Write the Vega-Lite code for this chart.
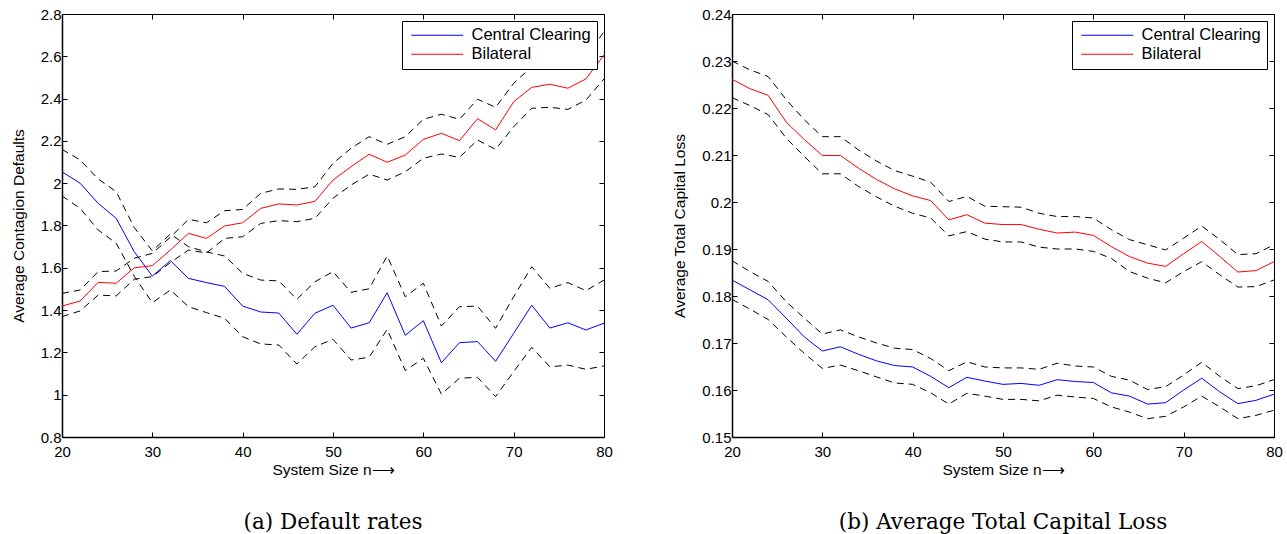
{
  "$schema": "https://vega.github.io/schema/vega-lite/v6.json",
  "padding": {"left": 10, "top": 6, "right": 5, "bottom": 0},
  "background": "white",
  "spacing": 59,
  "config": {
    "font": "Liberation Sans",
    "view": {"stroke": "black", "strokeWidth": 1},
    "axis": {
      "labelFont": "Liberation Sans", "labelFontSize": 15, "labelColor": "black", "labelFlush": false, "labelOverlap": false,
      "titleFont": "Liberation Sans", "titleFontSize": 15.5, "titleFontWeight": "normal", "titleColor": "black",
      "domainColor": "black", "domainWidth": 1.5, "tickColor": "black", "tickSize": -5, "labelPadding": 6,
      "grid": false, "titlePadding": 14
    },
    "legend": {
      "labelFont": "Liberation Sans", "labelFontSize": 16.5, "labelColor": "black"
    },
    "title": {"font": "DejaVu Serif", "fontSize": 21.5, "fontWeight": "normal", "color": "black"}
  },
  "datasets": {
    "defaults": [
      {"n":20,"s":"Central Clearing","m":2.054,"hi":2.16,"lo":1.94},
      {"n":22,"s":"Central Clearing","m":2.00,"hi":2.11,"lo":1.881},
      {"n":24,"s":"Central Clearing","m":1.905,"hi":2.02,"lo":1.779},
      {"n":26,"s":"Central Clearing","m":1.834,"hi":1.96,"lo":1.716},
      {"n":28,"s":"Central Clearing","m":1.676,"hi":1.79,"lo":1.56},
      {"n":30,"s":"Central Clearing","m":1.561,"hi":1.68,"lo":1.435},
      {"n":32,"s":"Central Clearing","m":1.634,"hi":1.76,"lo":1.495},
      {"n":34,"s":"Central Clearing","m":1.55,"hi":1.70,"lo":1.416},
      {"n":36,"s":"Central Clearing","m":1.53,"hi":1.675,"lo":1.388},
      {"n":38,"s":"Central Clearing","m":1.512,"hi":1.656,"lo":1.361},
      {"n":40,"s":"Central Clearing","m":1.419,"hi":1.574,"lo":1.274},
      {"n":42,"s":"Central Clearing","m":1.391,"hi":1.542,"lo":1.24},
      {"n":44,"s":"Central Clearing","m":1.386,"hi":1.538,"lo":1.235},
      {"n":46,"s":"Central Clearing","m":1.286,"hi":1.451,"lo":1.145},
      {"n":48,"s":"Central Clearing","m":1.385,"hi":1.534,"lo":1.227},
      {"n":50,"s":"Central Clearing","m":1.423,"hi":1.582,"lo":1.262},
      {"n":52,"s":"Central Clearing","m":1.315,"hi":1.484,"lo":1.164},
      {"n":54,"s":"Central Clearing","m":1.34,"hi":1.501,"lo":1.177},
      {"n":56,"s":"Central Clearing","m":1.482,"hi":1.656,"lo":1.309},
      {"n":58,"s":"Central Clearing","m":1.281,"hi":1.463,"lo":1.114},
      {"n":60,"s":"Central Clearing","m":1.35,"hi":1.527,"lo":1.172},
      {"n":62,"s":"Central Clearing","m":1.151,"hi":1.325,"lo":1.003},
      {"n":64,"s":"Central Clearing","m":1.246,"hi":1.416,"lo":1.078},
      {"n":66,"s":"Central Clearing","m":1.251,"hi":1.419,"lo":1.082},
      {"n":68,"s":"Central Clearing","m":1.158,"hi":1.314,"lo":0.991},
      {"n":70,"s":"Central Clearing","m":1.29,"hi":1.463,"lo":1.109},
      {"n":72,"s":"Central Clearing","m":1.423,"hi":1.605,"lo":1.224},
      {"n":74,"s":"Central Clearing","m":1.315,"hi":1.503,"lo":1.132},
      {"n":76,"s":"Central Clearing","m":1.34,"hi":1.53,"lo":1.14},
      {"n":78,"s":"Central Clearing","m":1.306,"hi":1.492,"lo":1.12},
      {"n":80,"s":"Central Clearing","m":1.338,"hi":1.542,"lo":1.136},
      {"n":20,"s":"Bilateral","m":1.419,"hi":1.479,"lo":1.369},
      {"n":22,"s":"Bilateral","m":1.443,"hi":1.495,"lo":1.396},
      {"n":24,"s":"Bilateral","m":1.531,"hi":1.582,"lo":1.471},
      {"n":26,"s":"Bilateral","m":1.527,"hi":1.585,"lo":1.467},
      {"n":28,"s":"Bilateral","m":1.6,"hi":1.645,"lo":1.546},
      {"n":30,"s":"Bilateral","m":1.61,"hi":1.668,"lo":1.558},
      {"n":32,"s":"Bilateral","m":1.684,"hi":1.745,"lo":1.625},
      {"n":34,"s":"Bilateral","m":1.763,"hi":1.829,"lo":1.684},
      {"n":36,"s":"Bilateral","m":1.739,"hi":1.813,"lo":1.67},
      {"n":38,"s":"Bilateral","m":1.798,"hi":1.87,"lo":1.739},
      {"n":40,"s":"Bilateral","m":1.813,"hi":1.876,"lo":1.747},
      {"n":42,"s":"Bilateral","m":1.881,"hi":1.952,"lo":1.81},
      {"n":44,"s":"Bilateral","m":1.902,"hi":1.973,"lo":1.823},
      {"n":46,"s":"Bilateral","m":1.897,"hi":1.971,"lo":1.818},
      {"n":48,"s":"Bilateral","m":1.914,"hi":1.983,"lo":1.834},
      {"n":50,"s":"Bilateral","m":2.015,"hi":2.094,"lo":1.929},
      {"n":52,"s":"Bilateral","m":2.078,"hi":2.165,"lo":1.991},
      {"n":54,"s":"Bilateral","m":2.137,"hi":2.22,"lo":2.043},
      {"n":56,"s":"Bilateral","m":2.099,"hi":2.184,"lo":2.015},
      {"n":58,"s":"Bilateral","m":2.133,"hi":2.22,"lo":2.054},
      {"n":60,"s":"Bilateral","m":2.207,"hi":2.302,"lo":2.118},
      {"n":62,"s":"Bilateral","m":2.236,"hi":2.326,"lo":2.138},
      {"n":64,"s":"Bilateral","m":2.201,"hi":2.302,"lo":2.122},
      {"n":66,"s":"Bilateral","m":2.305,"hi":2.397,"lo":2.204},
      {"n":68,"s":"Bilateral","m":2.252,"hi":2.359,"lo":2.16},
      {"n":70,"s":"Bilateral","m":2.385,"hi":2.472,"lo":2.267},
      {"n":72,"s":"Bilateral","m":2.453,"hi":2.551,"lo":2.354},
      {"n":74,"s":"Bilateral","m":2.468,"hi":2.57,"lo":2.359},
      {"n":76,"s":"Bilateral","m":2.449,"hi":2.55,"lo":2.349},
      {"n":78,"s":"Bilateral","m":2.493,"hi":2.6,"lo":2.393},
      {"n":80,"s":"Bilateral","m":2.606,"hi":2.716,"lo":2.493}
    ],
    "loss": [
      {"n":20,"s":"Central Clearing","m":0.1834,"hi":0.1875,"lo":0.1793},
      {"n":22,"s":"Central Clearing","m":0.1813,"hi":0.1852,"lo":0.1772},
      {"n":24,"s":"Central Clearing","m":0.1792,"hi":0.1831,"lo":0.175},
      {"n":26,"s":"Central Clearing","m":0.1753,"hi":0.1788,"lo":0.1713},
      {"n":28,"s":"Central Clearing","m":0.1713,"hi":0.1753,"lo":0.1678},
      {"n":30,"s":"Central Clearing","m":0.1683,"hi":0.1719,"lo":0.1646},
      {"n":32,"s":"Central Clearing","m":0.1692,"hi":0.1728,"lo":0.1653},
      {"n":34,"s":"Central Clearing","m":0.1676,"hi":0.1713,"lo":0.1641},
      {"n":36,"s":"Central Clearing","m":0.1662,"hi":0.17,"lo":0.1628},
      {"n":38,"s":"Central Clearing","m":0.1652,"hi":0.1689,"lo":0.1615},
      {"n":40,"s":"Central Clearing","m":0.1649,"hi":0.1686,"lo":0.1612},
      {"n":42,"s":"Central Clearing","m":0.1629,"hi":0.1667,"lo":0.1594},
      {"n":44,"s":"Central Clearing","m":0.1605,"hi":0.1641,"lo":0.157},
      {"n":46,"s":"Central Clearing","m":0.1627,"hi":0.166,"lo":0.1593},
      {"n":48,"s":"Central Clearing","m":0.1619,"hi":0.1649,"lo":0.1587},
      {"n":50,"s":"Central Clearing","m":0.1612,"hi":0.1647,"lo":0.158},
      {"n":52,"s":"Central Clearing","m":0.1614,"hi":0.1647,"lo":0.158},
      {"n":54,"s":"Central Clearing","m":0.161,"hi":0.1644,"lo":0.1577},
      {"n":56,"s":"Central Clearing","m":0.1622,"hi":0.1657,"lo":0.1589},
      {"n":58,"s":"Central Clearing","m":0.1618,"hi":0.1651,"lo":0.1585},
      {"n":60,"s":"Central Clearing","m":0.1616,"hi":0.1649,"lo":0.1582},
      {"n":62,"s":"Central Clearing","m":0.1594,"hi":0.1629,"lo":0.1564},
      {"n":64,"s":"Central Clearing","m":0.1587,"hi":0.1621,"lo":0.1553},
      {"n":66,"s":"Central Clearing","m":0.157,"hi":0.1601,"lo":0.1539},
      {"n":68,"s":"Central Clearing","m":0.1573,"hi":0.1607,"lo":0.1544},
      {"n":70,"s":"Central Clearing","m":0.16,"hi":0.1632,"lo":0.1564},
      {"n":72,"s":"Central Clearing","m":0.1625,"hi":0.1659,"lo":0.1587},
      {"n":74,"s":"Central Clearing","m":0.1596,"hi":0.1629,"lo":0.1564},
      {"n":76,"s":"Central Clearing","m":0.1571,"hi":0.1603,"lo":0.1539},
      {"n":78,"s":"Central Clearing","m":0.1578,"hi":0.1609,"lo":0.1546},
      {"n":80,"s":"Central Clearing","m":0.1591,"hi":0.1622,"lo":0.1557},
      {"n":20,"s":"Bilateral","m":0.2261,"hi":0.23,"lo":0.2222},
      {"n":22,"s":"Bilateral","m":0.2241,"hi":0.2281,"lo":0.2205},
      {"n":24,"s":"Bilateral","m":0.2227,"hi":0.2267,"lo":0.2186},
      {"n":26,"s":"Bilateral","m":0.217,"hi":0.2218,"lo":0.2136},
      {"n":28,"s":"Bilateral","m":0.2133,"hi":0.2175,"lo":0.2097},
      {"n":30,"s":"Bilateral","m":0.2099,"hi":0.2139,"lo":0.206},
      {"n":32,"s":"Bilateral","m":0.2099,"hi":0.2139,"lo":0.206},
      {"n":34,"s":"Bilateral","m":0.2072,"hi":0.2111,"lo":0.2033},
      {"n":36,"s":"Bilateral","m":0.2048,"hi":0.2087,"lo":0.2011},
      {"n":38,"s":"Bilateral","m":0.2028,"hi":0.2067,"lo":0.1991},
      {"n":40,"s":"Bilateral","m":0.2013,"hi":0.2055,"lo":0.1976},
      {"n":42,"s":"Bilateral","m":0.2003,"hi":0.2042,"lo":0.1966},
      {"n":44,"s":"Bilateral","m":0.1962,"hi":0.2001,"lo":0.1928},
      {"n":46,"s":"Bilateral","m":0.1973,"hi":0.2012,"lo":0.1937},
      {"n":48,"s":"Bilateral","m":0.1955,"hi":0.1991,"lo":0.1921},
      {"n":50,"s":"Bilateral","m":0.1952,"hi":0.199,"lo":0.1915},
      {"n":52,"s":"Bilateral","m":0.1952,"hi":0.1989,"lo":0.1915},
      {"n":54,"s":"Bilateral","m":0.1942,"hi":0.1976,"lo":0.1904},
      {"n":56,"s":"Bilateral","m":0.1934,"hi":0.1969,"lo":0.19},
      {"n":58,"s":"Bilateral","m":0.1936,"hi":0.1969,"lo":0.19},
      {"n":60,"s":"Bilateral","m":0.1929,"hi":0.1966,"lo":0.1895},
      {"n":62,"s":"Bilateral","m":0.1905,"hi":0.1941,"lo":0.188},
      {"n":64,"s":"Bilateral","m":0.1884,"hi":0.192,"lo":0.1852},
      {"n":66,"s":"Bilateral","m":0.187,"hi":0.1909,"lo":0.1838},
      {"n":68,"s":"Bilateral","m":0.1863,"hi":0.1898,"lo":0.1828},
      {"n":70,"s":"Bilateral","m":0.189,"hi":0.1923,"lo":0.1852},
      {"n":72,"s":"Bilateral","m":0.1916,"hi":0.1949,"lo":0.1873},
      {"n":74,"s":"Bilateral","m":0.1884,"hi":0.192,"lo":0.1845},
      {"n":76,"s":"Bilateral","m":0.1851,"hi":0.1888,"lo":0.1819},
      {"n":78,"s":"Bilateral","m":0.1854,"hi":0.189,"lo":0.182},
      {"n":80,"s":"Bilateral","m":0.1873,"hi":0.1909,"lo":0.1834}
    ]
  },
  "hconcat": [
    {
      "width": 542, "height": 423,
      "data": {"name": "defaults"},
      "title": {"text": "(a) Default rates", "orient": "bottom", "frame": "group", "anchor": "middle", "offset": 34},
      "resolve": {"axis": {"x": "independent", "y": "independent"}},
      "layer": [
        {
          "mark": {"type": "line", "strokeWidth": 1},
          "encoding": {
            "x": {"field": "n", "type": "quantitative", "scale": {"domain": [20, 80], "nice": false}, "axis": {"orient": "bottom", "title": "System Size n\u27f6", "values": [20,30,40,50,60,70,80], "labelPadding": 12, "titlePadding": 3}},
            "y": {"field": "m", "type": "quantitative", "scale": {"domain": [0.8, 2.8], "nice": false, "zero": false}, "axis": {"orient": "left", "title": "Average Contagion Defaults", "values": [0.8,1,1.2,1.4,1.6,1.8,2,2.2,2.4,2.6,2.8], "format": ".1~f"}},
            "color": {"field": "s", "type": "nominal", "scale": {"domain": ["Central Clearing", "Bilateral"], "range": ["#0000ff", "#ff0000"]},
              "legend": {"title": null, "orient": "top-right", "offset": 7, "strokeColor": "black", "fillColor": "white", "padding": 6, "symbolType": "M-5.2,0H5.2", "symbolSize": 100, "symbolOffset": 21, "symbolStrokeWidth": 1, "labelOffset": 26, "rowPadding": 2}}
          }
        },
        {
          "mark": {"type": "line", "strokeWidth": 1, "strokeDash": [7, 5], "color": "black"},
          "encoding": {
            "x": {"field": "n", "type": "quantitative", "axis": {"orient": "top", "labels": false, "title": null, "values": [20,30,40,50,60,70,80], "domain": false}},
            "y": {"field": "hi", "type": "quantitative", "axis": {"orient": "right", "labels": false, "title": null, "values": [0.8,1,1.2,1.4,1.6,1.8,2,2.2,2.4,2.6,2.8], "domain": false}},
            "detail": {"field": "s"}
          }
        },
        {
          "mark": {"type": "line", "strokeWidth": 1, "strokeDash": [7, 5], "color": "black"},
          "encoding": {
            "x": {"field": "n", "type": "quantitative", "axis": null},
            "y": {"field": "lo", "type": "quantitative", "axis": null},
            "detail": {"field": "s"}
          }
        }
      ]
    },
    {
      "width": 542, "height": 423,
      "data": {"name": "loss"},
      "title": {"text": "(b) Average Total Capital Loss", "orient": "bottom", "frame": "group", "anchor": "middle", "offset": 34},
      "resolve": {"axis": {"x": "independent", "y": "independent"}},
      "layer": [
        {
          "mark": {"type": "line", "strokeWidth": 1},
          "encoding": {
            "x": {"field": "n", "type": "quantitative", "scale": {"domain": [20, 80], "nice": false}, "axis": {"orient": "bottom", "title": "System Size n\u27f6", "values": [20,30,40,50,60,70,80], "labelPadding": 12, "titlePadding": 3}},
            "y": {"field": "m", "type": "quantitative", "scale": {"domain": [0.15, 0.24], "nice": false, "zero": false}, "axis": {"orient": "left", "title": "Average Total Capital Loss", "values": [0.15,0.16,0.17,0.18,0.19,0.2,0.21,0.22,0.23,0.24], "format": ".2~f"}},
            "color": {"field": "s", "type": "nominal", "scale": {"domain": ["Central Clearing", "Bilateral"], "range": ["#0000ff", "#ff0000"]},
              "legend": {"title": null, "orient": "top-right", "offset": 7, "strokeColor": "black", "fillColor": "white", "padding": 6, "symbolType": "M-5.2,0H5.2", "symbolSize": 100, "symbolOffset": 21, "symbolStrokeWidth": 1, "labelOffset": 26, "rowPadding": 2}}
          }
        },
        {
          "mark": {"type": "line", "strokeWidth": 1, "strokeDash": [7, 5], "color": "black"},
          "encoding": {
            "x": {"field": "n", "type": "quantitative", "axis": {"orient": "top", "labels": false, "title": null, "values": [20,30,40,50,60,70,80], "domain": false}},
            "y": {"field": "hi", "type": "quantitative", "axis": {"orient": "right", "labels": false, "title": null, "values": [0.15,0.16,0.17,0.18,0.19,0.2,0.21,0.22,0.23,0.24], "domain": false}},
            "detail": {"field": "s"}
          }
        },
        {
          "mark": {"type": "line", "strokeWidth": 1, "strokeDash": [7, 5], "color": "black"},
          "encoding": {
            "x": {"field": "n", "type": "quantitative", "axis": null},
            "y": {"field": "lo", "type": "quantitative", "axis": null},
            "detail": {"field": "s"}
          }
        }
      ]
    }
  ],
  "resolve": {"scale": {"color": "independent"}}
}
